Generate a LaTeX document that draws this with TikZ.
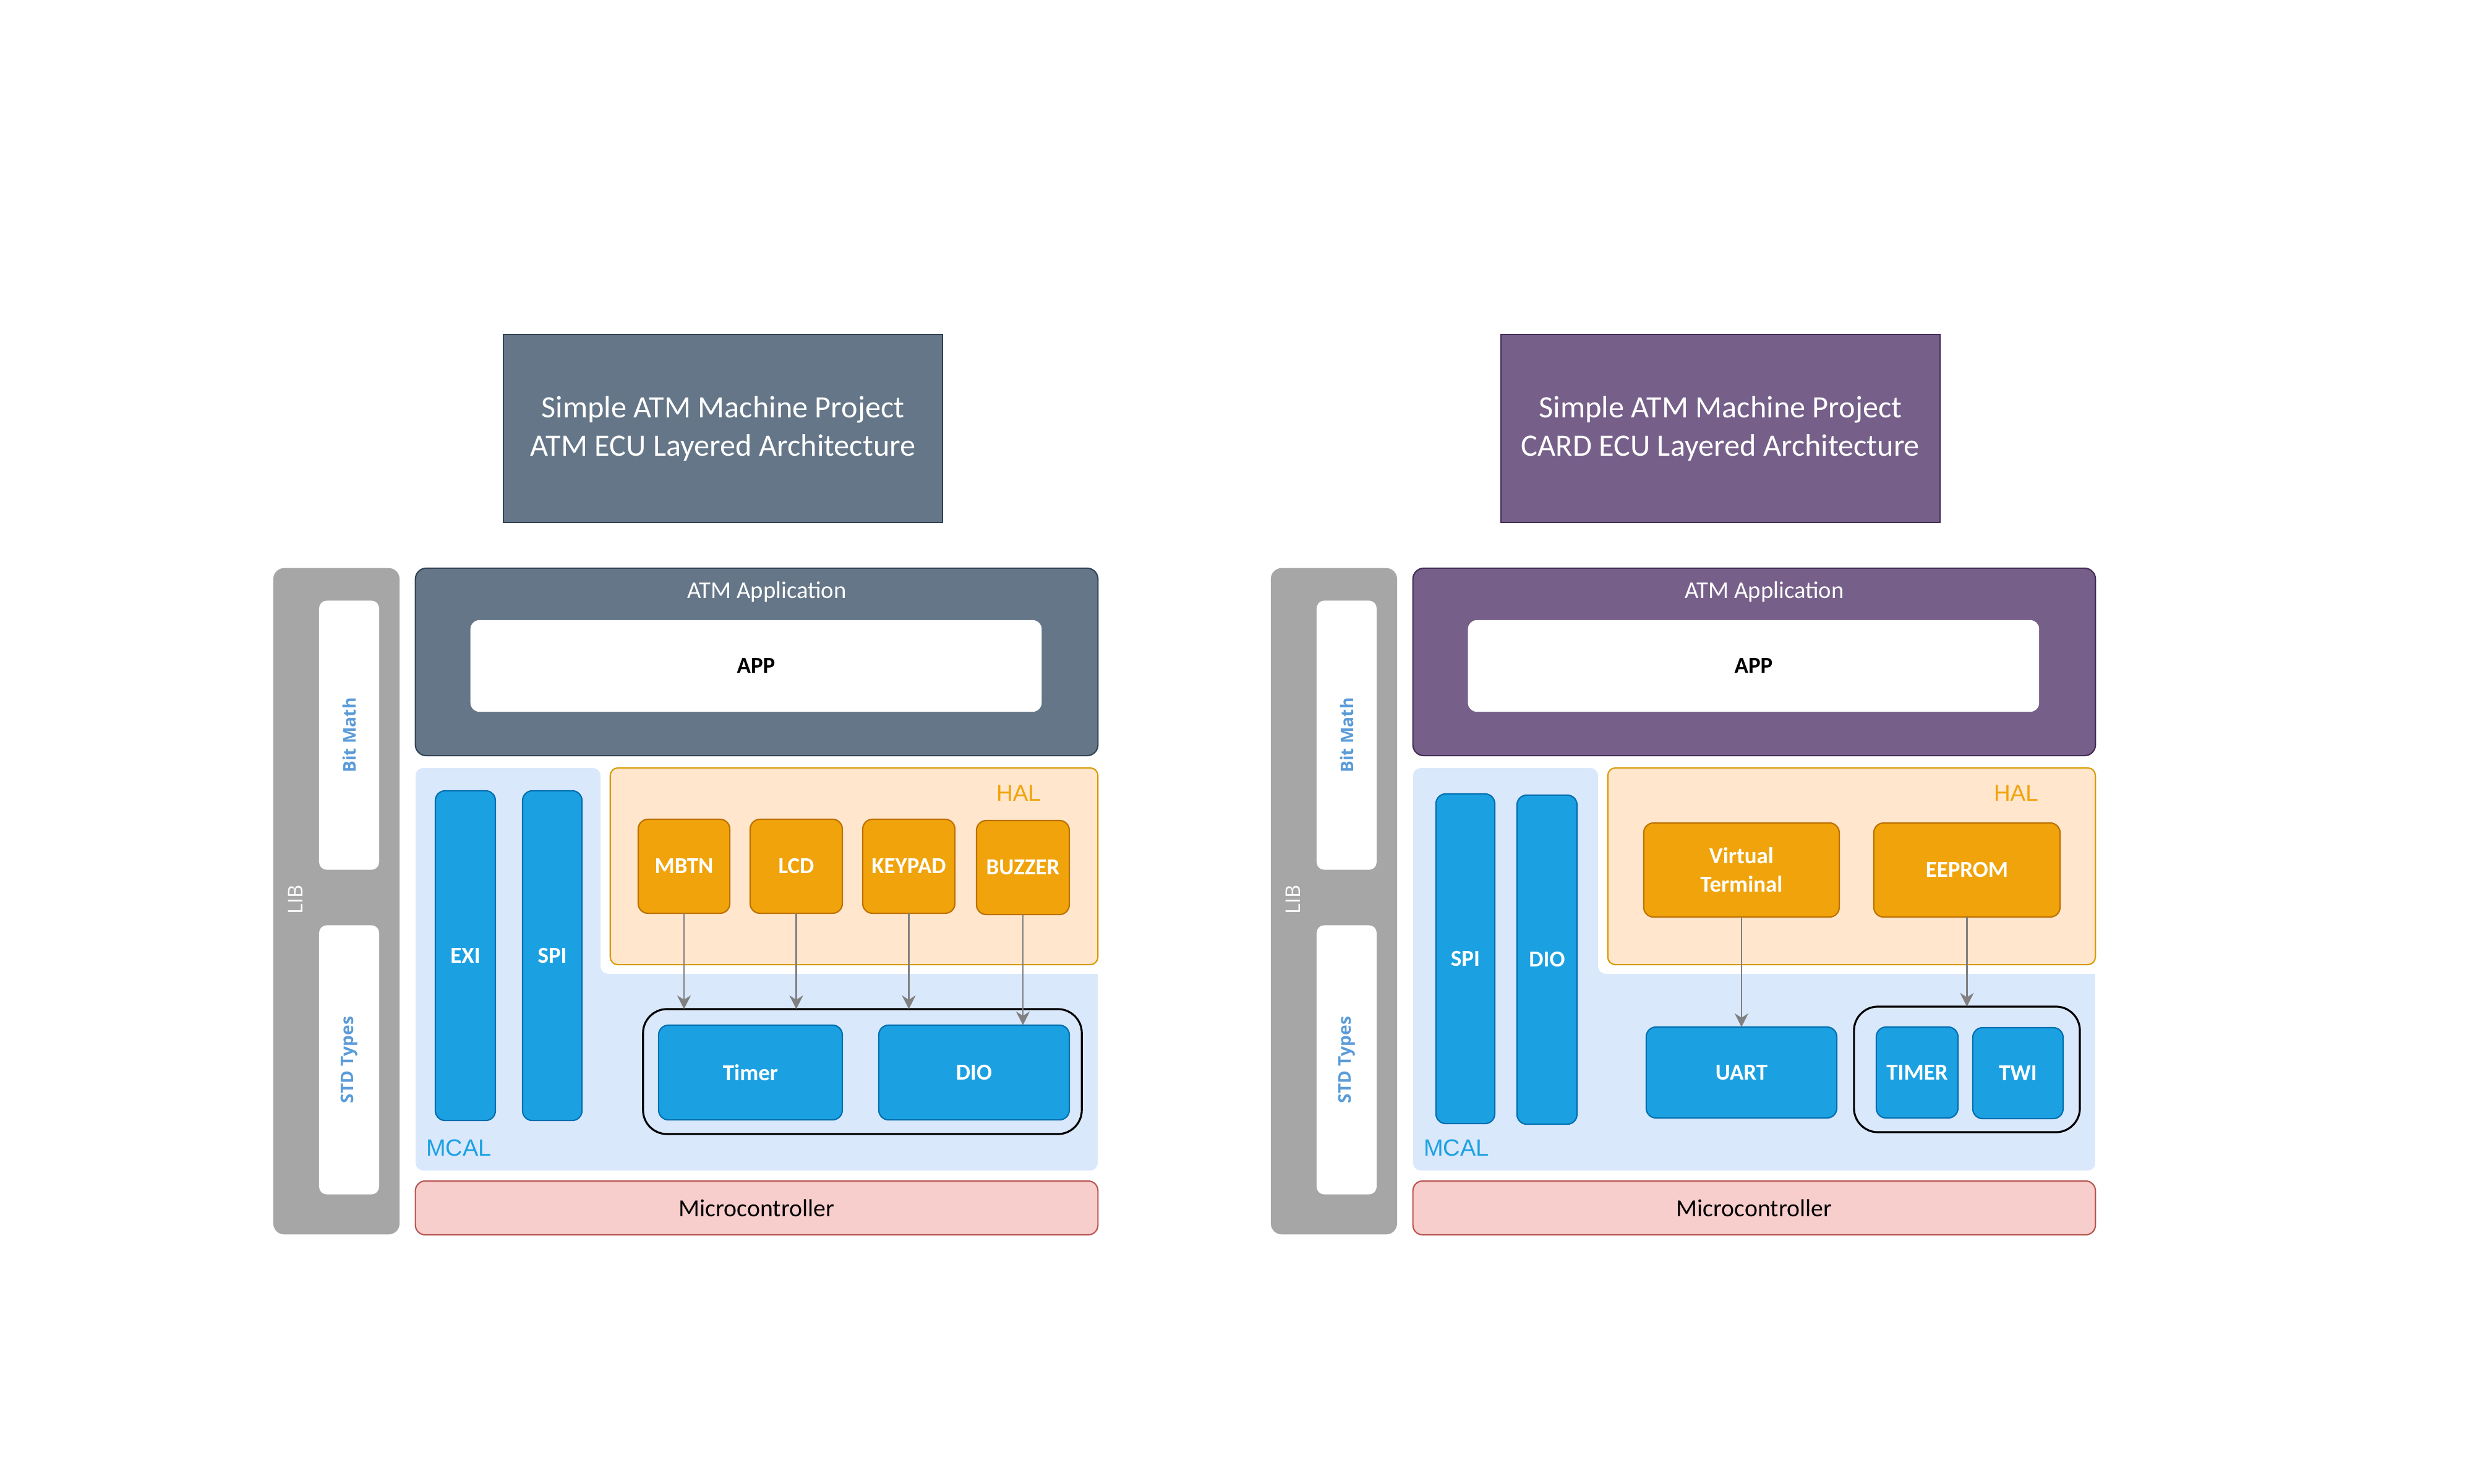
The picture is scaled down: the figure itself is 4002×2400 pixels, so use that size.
\documentclass[tikz,border=0pt]{standalone}
\usepackage{fontspec}
\setmainfont{Carlito}
\newfontfamily\opensans{Open Sans}
\newfontfamily\arialsans{Liberation Sans}
\usetikzlibrary{arrows.meta}

\definecolor{atmslate}{HTML}{647687}
\definecolor{atmslatedark}{HTML}{314354}
\definecolor{cardviolet}{HTML}{76608A}
\definecolor{cardvioletdark}{HTML}{432D57}
\definecolor{libgray}{HTML}{A6A6A6}
\definecolor{libblue}{HTML}{5A9BD8}
\definecolor{mcalfill}{HTML}{DAE8FC}
\definecolor{mcaltext}{HTML}{1BA1E2}
\definecolor{halfill}{HTML}{FFE6CC}
\definecolor{haldraw}{HTML}{D79B00}
\definecolor{haltext}{HTML}{F0A30A}
\definecolor{orangefill}{HTML}{F0A30A}
\definecolor{orangedraw}{HTML}{BD7000}
\definecolor{bluefill}{HTML}{1BA1E2}
\definecolor{bluedraw}{HTML}{006EAF}
\definecolor{microfill}{HTML}{F8CECC}
\definecolor{microdraw}{HTML}{B85450}
\definecolor{arrowgray}{HTML}{808080}

\begin{document}
\begin{tikzpicture}[x=0.01cm, y=-0.01cm,
  layer/.style={inner sep=0pt, outer sep=0pt, line width=0.6pt},
  titlebox/.style 2 args={layer, fill=#1, draw=#2, text=white, align=center,
    minimum width=7.10cm, minimum height=3.04cm, font=\fontsize{14.3}{17.4}\selectfont},
  appbox/.style 2 args={layer, fill=#1, draw=#2, rounded corners=5pt,
    minimum width=11.03cm, minimum height=3.03cm},
  appcore/.style={layer, fill=white, rounded corners=4pt, minimum width=9.23cm, minimum height=1.48cm,
    font=\bfseries\fontsize{10.5}{13}\selectfont},
  libbar/.style={layer, fill=libgray, rounded corners=5pt, minimum width=2.04cm, minimum height=10.77cm},
  libbox/.style={layer, fill=white, rounded corners=3.5pt, minimum width=0.97cm, minimum height=4.35cm},
  libtxt/.style={text=libblue, rotate=90, font=\opensans\bfseries\fontsize{8}{9.6}\selectfont},
  halbox/.style={layer, fill=halfill, draw=haldraw, rounded corners=3.5pt,
    minimum width=7.88cm, minimum height=3.18cm},
  halmod/.style={layer, fill=orangefill, draw=orangedraw, rounded corners=4.5pt, text=white,
    align=center, minimum height=1.52cm, font=\bfseries\fontsize{10.5}{13}\selectfont},
  mcalmod/.style={layer, fill=bluefill, draw=bluedraw, rounded corners=4.5pt, text=white,
    font=\bfseries\fontsize{10.5}{13}\selectfont},
  modgroup/.style={layer, draw=black, line width=0.9pt, rounded corners=11pt},
  microbox/.style={layer, fill=microfill, draw=microdraw, rounded corners=4.5pt,
    minimum width=11.03cm, minimum height=0.87cm, font=\fontsize{11.3}{13.5}\selectfont},
  uses/.style={draw=arrowgray, line width=0.6pt, -{Stealth[length=6.3pt, width=6.3pt, inset=2pt]}}
]
  \useasboundingbox (0,0) rectangle (4002,2400);

  % ---- ATM ECU ----
  \node[titlebox={atmslate}{atmslatedark}] (titleL) at (1169,693)
    {Simple ATM Machine Project\\ATM ECU Layered Architecture};
  \node[libbar] (libL) at (544,1457.5) {};
  \node[text=white, rotate=90, font=\opensans\fontsize{9.3}{11}\selectfont] (libtxtL) at (478,1455) {LIB};
  \node[libbox] (bitmathL) at (564.5,1189) {};
  \node[libtxt] (bitmathtxtL) at (bitmathL) {Bit Math};
  \node[libbox] (stdtypesL) at (564.5,1714) {};
  \node[libtxt] (stdtypestxtL) at (stdtypesL) {STD Types};
  \node[appbox={atmslate}{atmslatedark}] (appL) at (1223.5,1070.5) {};
  \node[text=white, font=\fontsize{11}{13}\selectfont] (apptxtL) at (1240,957) {ATM Application};
  \node[appcore] (appcoreL) at (1222.5,1077) {APP};
  % MCAL layer
  \fill[mcalfill] (672,1500) [rounded corners=3.5pt] -- (672,1242) -- (971,1242) -- (971,1575)
    [sharp corners] -- (1775,1575) [rounded corners=3.5pt] -- (1775,1893) -- (672,1893) -- cycle;
  \node[text=mcaltext, font=\arialsans\fontsize{10.8}{13}\selectfont] (mcaltxtL) at (742,1856) {MCAL};
  \node[halbox] (halL) at (1381,1401) {};
  \node[text=haltext, font=\arialsans\fontsize{10.5}{13}\selectfont] (haltxtL) at (1647,1283) {HAL};
  \node[mcalmod, minimum width=0.97cm, minimum height=5.33cm] (exiL) at (752.5,1545.5) {EXI};
  \node[mcalmod, minimum width=0.96cm, minimum height=5.33cm] (spiL) at (893,1545.5) {SPI};
  \node[halmod, minimum width=1.48cm] (mbtnL) at (1106,1401) {MBTN};
  \node[halmod, minimum width=1.49cm] (lcdL) at (1287.5,1401) {LCD};
  \node[halmod, minimum width=1.49cm] (keypadL) at (1469.5,1401) {KEYPAD};
  \node[halmod, minimum width=1.50cm] (buzzerL) at (1654,1403) {BUZZER};
  \node[modgroup, minimum width=7.09cm, minimum height=2.02cm] (groupL) at (1394.5,1733) {};
  \node[mcalmod, minimum width=2.97cm, minimum height=1.53cm] (timerL) at (1213.5,1734.5) {Timer};
  \node[mcalmod, minimum width=3.08cm, minimum height=1.53cm] (dioL) at (1575,1734.5) {DIO};
  \node[microbox] (microL) at (1223.5,1953.5) {Microcontroller};
  \draw[uses] (mbtnL.south) -- (mbtnL.south |- groupL.north);
  \draw[uses] (lcdL.south) -- (lcdL.south |- groupL.north);
  \draw[uses] (keypadL.south) -- (keypadL.south |- groupL.north);
  \draw[uses] (buzzerL.south) -- (buzzerL.south |- dioL.north);

  % ---- CARD ECU ----
  \begin{scope}[xshift=16.12cm]
    \node[titlebox={cardviolet}{cardvioletdark}] (titleR) at (1169,693)
      {Simple ATM Machine Project\\CARD ECU Layered Architecture};
    \node[libbar] (libR) at (544,1457.5) {};
    \node[text=white, rotate=90, font=\opensans\fontsize{9.3}{11}\selectfont] (libtxtR) at (478,1455) {LIB};
    \node[libbox] (bitmathR) at (564.5,1189) {};
    \node[libtxt] (bitmathtxtR) at (bitmathR) {Bit Math};
    \node[libbox] (stdtypesR) at (564.5,1714) {};
    \node[libtxt] (stdtypestxtR) at (stdtypesR) {STD Types};
    \node[appbox={cardviolet}{cardvioletdark}] (appR) at (1223.5,1070.5) {};
    \node[text=white, font=\fontsize{11}{13}\selectfont] (apptxtR) at (1240,957) {ATM Application};
    \node[appcore] (appcoreR) at (1222.5,1077) {APP};
    % MCAL layer
    \fill[mcalfill] (672,1500) [rounded corners=3.5pt] -- (672,1242) -- (971,1242) -- (971,1575)
      [sharp corners] -- (1775,1575) [rounded corners=3.5pt] -- (1775,1893) -- (672,1893) -- cycle;
    \node[text=mcaltext, font=\arialsans\fontsize{10.8}{13}\selectfont] (mcaltxtR) at (742,1856) {MCAL};
    \node[halbox] (halR) at (1381,1401) {};
    \node[text=haltext, font=\arialsans\fontsize{10.5}{13}\selectfont] (haltxtR) at (1647,1283) {HAL};
    \node[mcalmod, minimum width=0.95cm, minimum height=5.33cm] (spiR) at (756.5,1550.5) {SPI};
    \node[mcalmod, minimum width=0.97cm, minimum height=5.32cm] (dioR) at (888.5,1552) {DIO};
    \node[halmod, minimum width=3.16cm] (vtermR) at (1203,1407) {Virtual\\Terminal};
    \node[halmod, minimum width=3.01cm] (eepromR) at (1567.5,1407) {EEPROM};
    \node[mcalmod, minimum width=3.08cm, minimum height=1.47cm] (uartR) at (1203,1734.5) {UART};
    \node[modgroup, minimum width=3.65cm, minimum height=2.03cm] (groupR) at (1567.5,1729.5) {};
    \node[mcalmod, minimum width=1.32cm, minimum height=1.47cm] (timerR) at (1487,1734.5) {TIMER};
    \node[mcalmod, minimum width=1.46cm, minimum height=1.47cm] (twiR) at (1650,1735.5) {TWI};
    \node[microbox] (microR) at (1223.5,1953.5) {Microcontroller};
    \draw[uses] (vtermR.south) -- (uartR.north);
    \draw[uses] (eepromR.south) -- (eepromR.south |- groupR.north);
  \end{scope}
\end{tikzpicture}
\end{document}
